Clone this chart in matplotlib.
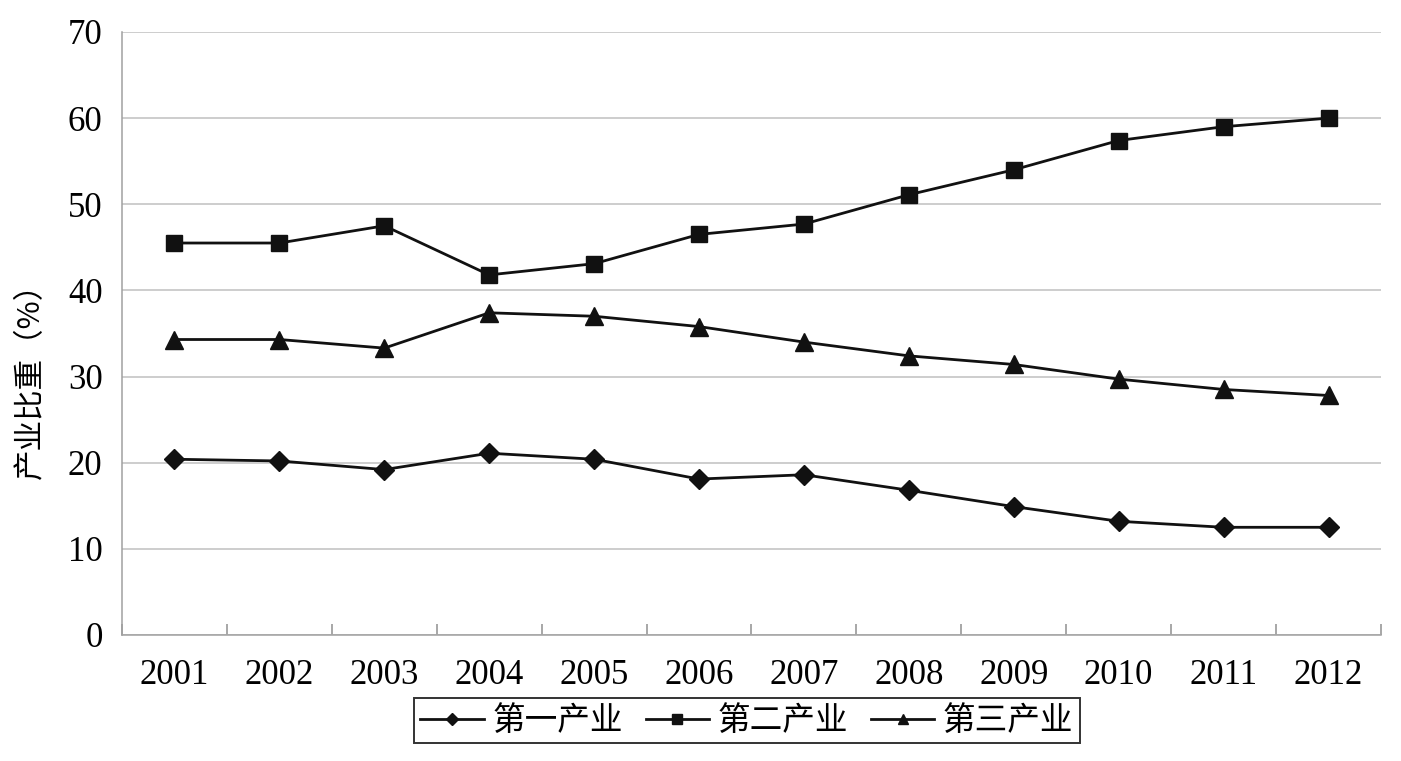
import matplotlib.pyplot as plt
import numpy as np

# 数据
years = ['2001', '2002', '2003', '2004', '2005', '2006',
         '2007', '2008', '2009', '2010', '2011', '2012']
primary = [20.4, 20.2, 19.2, 21.1, 20.4, 18.1, 18.6, 16.8, 14.9, 13.2, 12.5, 12.5]
secondary = [45.5, 45.5, 47.5, 41.8, 43.1, 46.5, 47.7, 51.1, 54.0, 57.4, 59.0, 60.0]
tertiary = [34.3, 34.3, 33.3, 37.4, 37.0, 35.8, 34.0, 32.4, 31.4, 29.7, 28.5, 27.8]
names = ['第一产业', '第二产业', '第三产业']

plt.rcParams['font.family'] = ['Liberation Serif', 'Noto Sans CJK SC']

fig = plt.figure(figsize=(14.01, 7.61), dpi=100)
ax = fig.add_axes([0.0871, 0.1656, 0.8986, 0.7924])

x = np.arange(len(years))
ax.plot(x, primary, color='#111111', lw=2.0, marker='D', ms=10, label=names[0])
ax.plot(x, secondary, color='#111111', lw=2.0, marker='s', ms=12, label=names[1])
ax.plot(x, tertiary, color='#111111', lw=2.0, marker='^', ms=13, label=names[2])

ax.set_xlim(-0.5, len(years) - 0.5)
ax.set_ylim(0, 70)
ax.set_yticks(range(0, 71, 10))
ax.yaxis.grid(True, color='#c0c0c0', lw=1.1)
ax.set_axisbelow(True)

ax.set_xticks(x)
ax.set_xticklabels(years)
ax.set_xticks(np.arange(-0.5, len(years), 1.0), minor=True)
ax.tick_params(axis='x', which='major', length=0, pad=17, labelsize=25)
ax.tick_params(axis='x', which='minor', direction='in', length=8, color='#909090', width=1.1)
ax.tick_params(axis='y', length=0, pad=14, labelsize=25)

for s in ['top', 'right']:
    ax.spines[s].set_visible(False)
for s in ['left', 'bottom']:
    ax.spines[s].set_color('#a0a0a0')
    ax.spines[s].set_linewidth(1.1)

fig.text(0.022, 0.51, '产业比重（%）', family=['Noto Sans CJK SC', 'DejaVu Sans'],
         fontsize=22, rotation=90, ha='center', va='center')

leg = fig.legend(loc='center', bbox_to_anchor=(0.533, 0.0526), ncol=3, frameon=True,
                 fancybox=False, edgecolor='black', handlelength=1.95, handletextpad=0.25,
                 columnspacing=0.7, borderpad=0.2, borderaxespad=0, markerscale=0.6,
                 prop={'family': ['Noto Sans CJK SC'], 'size': 23.5})
leg.get_frame().set_linewidth(1.4)

fig.savefig('out.png', dpi=100, facecolor='white')
